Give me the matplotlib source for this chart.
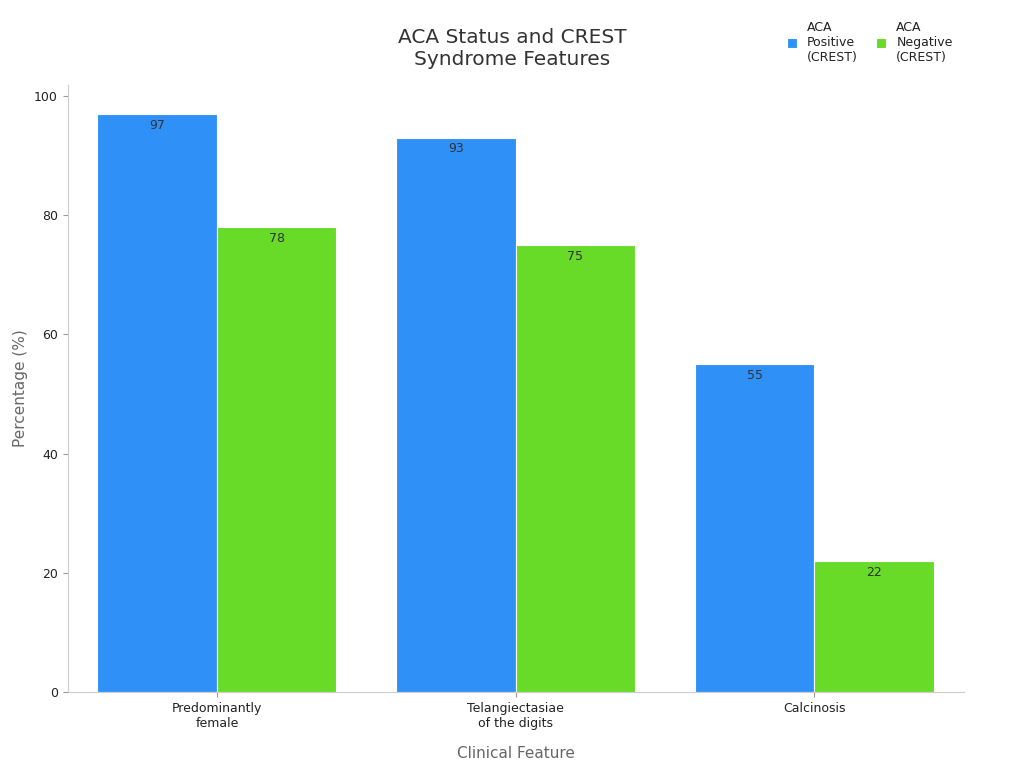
import numpy as np
import matplotlib.pyplot as plt

categories = ["Predominantly\nfemale", "Telangiectasiae\nof the digits", "Calcinosis"]
aca_pos = [97, 93, 55]
aca_neg = [78, 75, 22]
series_labels = ["ACA\nPositive\n(CREST)", "ACA\nNegative\n(CREST)"]

fig = plt.figure(figsize=(10.24, 7.68), dpi=100)
ax = fig.add_axes([0.066, 0.099, 0.875, 0.79])

x = np.arange(len(categories))
w = 0.4
b1 = ax.bar(x - w / 2, aca_pos, w, color="#2f91f8", edgecolor="white", linewidth=0.8, label=series_labels[0])
b2 = ax.bar(x + w / 2, aca_neg, w, color="#67db28", edgecolor="white", linewidth=0.8, label=series_labels[1])

for bars in (b1, b2):
    for r in bars:
        ax.text(r.get_x() + r.get_width() / 2, r.get_height() - 0.8, f"{r.get_height():.0f}",
                ha="center", va="top", fontsize=9, color="#333333")

ax.set_xlim(-0.5, 2.5)
ax.set_ylim(0, 101.8)
ax.set_xticks(x)
ax.set_xticklabels(categories, fontsize=9, color="#222222")
ax.set_yticks([0, 20, 40, 60, 80, 100])
ax.tick_params(axis="y", labelsize=9, colors="#222222")
ax.tick_params(axis="both", color="#999999")
for s in ["top", "right"]:
    ax.spines[s].set_visible(False)
for s in ["left", "bottom"]:
    ax.spines[s].set_color("#cccccc")

ax.set_xlabel("Clinical Feature", fontsize=11, color="#666666", labelpad=12)
ax.set_ylabel("Percentage (%)", fontsize=11, color="#666666")
fig.text(0.5, 0.937, "ACA Status and CREST\nSyndrome Features", ha="center", va="center",
         fontsize=14.5, color="#333333")
ax.legend(loc="upper left", bbox_to_anchor=(0.79, 1.125), ncol=2, frameon=False, fontsize=9,
          handlelength=0.8, handleheight=0.8, columnspacing=1.5, labelcolor="#222222")

fig.savefig("out.png")
